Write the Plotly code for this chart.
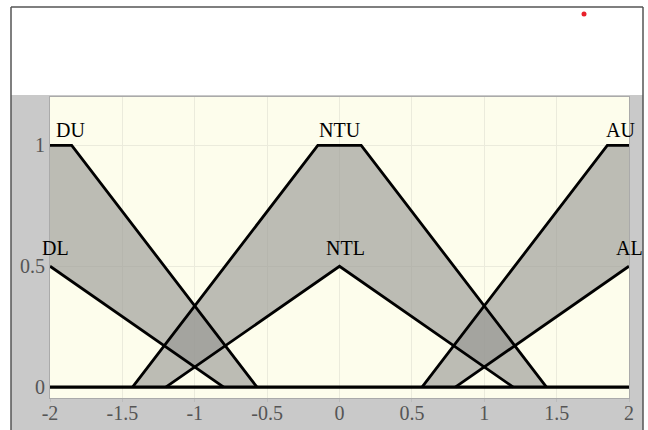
import plotly.graph_objects as go

# ---- data ----
tick_x = [-2, -1.5, -1, -0.5, 0, 0.5, 1, 1.5, 2]
tick_x_text = ["-2", "-1.5", "-1", "-0.5", "0", "0.5", "1", "1.5", "2"]
tick_y = [0, 0.5, 1]
tick_y_text = ["0", "0.5", "1"]

# upper membership functions
du_x = [-2, -1.85, -0.57]
du_y = [1, 1, 0]
ntu_x = [-1.43, -0.15, 0.15, 1.43]
ntu_y = [0, 1, 1, 0]
au_x = [0.57, 1.85, 2]
au_y = [0, 1, 1]

# lower membership functions
dl_x = [-2, -0.8]
dl_y = [0.5, 0]
ntl_x = [-1.2, 0, 1.2]
ntl_y = [0, 0.5, 0]
al_x = [0.8, 2]
al_y = [0, 0.5]

zero_x = [-2, 2]
zero_y = [0, 0]

labels = ["DU", "DL", "NTU", "NTL", "AU", "AL"]
label_x = [-1.86, -1.96, 0.0, 0.04, 1.94, 2.0]
label_y = [1.065, 0.575, 1.065, 0.575, 1.065, 0.575]

# ---- figure ----
W, H = 648, 430
ml, mr, mt, mb = 50, 19, 97, 32
pw, ph = W - ml - mr, H - mt - mb

def px(x):
    return (x - ml) / pw

def py(y):
    return (H - mb - y) / ph

fill_col = "rgba(150,150,148,0.63)"
fig = go.Figure()

pairs = [(du_x, du_y, dl_x, dl_y), (ntu_x, ntu_y, ntl_x, ntl_y), (au_x, au_y, al_x, al_y)]
for ux, uy, lx, ly in pairs:
    fig.add_trace(go.Scatter(x=ux + lx[::-1] + [ux[0]], y=uy + ly[::-1] + [uy[0]],
                             mode="lines", fill="toself", fillcolor=fill_col,
                             line=dict(width=0), hoverinfo="skip", showlegend=False))

for xs, ys in [(du_x, du_y), (ntu_x, ntu_y), (au_x, au_y), (dl_x, dl_y), (ntl_x, ntl_y), (al_x, al_y)]:
    fig.add_trace(go.Scatter(x=xs, y=ys, mode="lines", line=dict(color="black", width=2.8),
                             showlegend=False, hoverinfo="skip"))

fig.add_trace(go.Scatter(x=zero_x, y=zero_y, mode="lines", line=dict(color="black", width=3.4),
                         showlegend=False, hoverinfo="skip"))

for t, x, y in zip(labels, label_x, label_y):
    fig.add_annotation(x=x, y=y, text=t, showarrow=False, xanchor="center", yanchor="middle",
                       font=dict(family="Liberation Serif", size=20, color="black"))

shapes = [
    # white top area and side strips (paper is grey)
    dict(type="rect", xref="paper", yref="paper", x0=px(0), x1=px(W), y0=py(95), y1=py(0),
         fillcolor="white", line=dict(width=0), layer="below"),
    dict(type="rect", xref="paper", yref="paper", x0=px(0), x1=px(11), y0=py(H), y1=py(0),
         fillcolor="white", line=dict(width=0), layer="below"),
    dict(type="rect", xref="paper", yref="paper", x0=px(643), x1=px(W), y0=py(H), y1=py(0),
         fillcolor="white", line=dict(width=0), layer="below"),
    # frame lines
    dict(type="line", xref="paper", yref="paper", x0=px(11), x1=px(11), y0=py(H), y1=py(7),
         line=dict(color="#555555", width=1.5)),
    dict(type="line", xref="paper", yref="paper", x0=px(11), x1=px(643), y0=py(7), y1=py(7),
         line=dict(color="#555555", width=1.5)),
    dict(type="line", xref="paper", yref="paper", x0=px(643), x1=px(643), y0=py(H), y1=py(7),
         line=dict(color="#555555", width=1.5)),
    # red dot
    dict(type="circle", xref="paper", yref="paper", x0=px(581.5), x1=px(586.5), y0=py(16.5), y1=py(11.5),
         fillcolor="#e8202a", line=dict(width=0)),
]

fig.update_layout(
    width=W, height=H,
    margin=dict(l=ml, r=mr, t=mt, b=mb, pad=0),
    paper_bgcolor="#c9c9c9",
    plot_bgcolor="#fdfdec",
    shapes=shapes,
    showlegend=False,
    font=dict(family="Liberation Serif", size=20, color="#555555"),
    xaxis=dict(range=[-2, 2], tickvals=tick_x, ticktext=tick_x_text, showgrid=True,
               gridcolor="#ebebdc", gridwidth=1, zeroline=False, showline=True,
               linecolor="#aaaaaa", mirror=True, ticks="outside", ticklen=3,
               tickcolor="#bbbbbb", fixedrange=True, automargin=False,
               ticklabelstandoff=-6),
    yaxis=dict(range=[-0.045, 1.2], tickvals=tick_y, ticktext=tick_y_text, showgrid=True,
               gridcolor="#ebebdc", gridwidth=1, zeroline=False, showline=True,
               linecolor="#aaaaaa", mirror=True, ticks="", fixedrange=True, automargin=False),
)

fig.write_html("out.html", config={"displayModeBar": False},
               post_script="document.body.style.margin='0px';document.body.style.overflow='hidden';")
